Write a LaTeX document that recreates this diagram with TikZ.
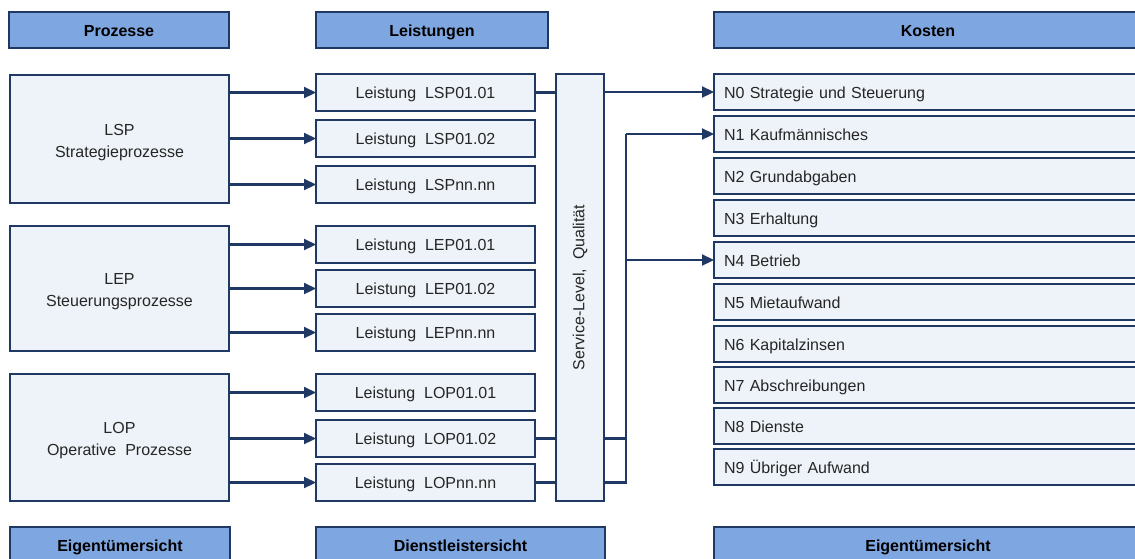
\documentclass[tikz,border=0pt]{standalone}
\usepackage{fontspec}
\setmainfont{Liberation Sans}[WordSpace=2]
\usetikzlibrary{arrows.meta}
\definecolor{navy}{HTML}{1F3864}
\definecolor{head}{HTML}{7EA6E0}
\definecolor{pale}{HTML}{EEF3F9}
\definecolor{ink}{HTML}{262626}
\tikzset{
  base/.style={draw=navy, line width=1.8pt, rectangle, inner sep=0pt, outer sep=0pt,
    anchor=north west, text=ink, font=\fontsize{16}{22}\selectfont},
  oneline/.style={text height=12pt, text depth=0pt},
  header/.style={base, oneline, fill=head, minimum height=36pt, text=black,
    font=\fontsize{16}{22}\selectfont\bfseries},
  proc/.style={base, fill=pale, minimum width=219pt, align=center, text height=39.5pt},
  task/.style={base, oneline, fill=pale, minimum width=219pt, minimum height=37pt},
  cost/.style={base, oneline, fill=pale, minimum height=36pt, text width=408pt,
    inner xsep=10pt, align=left},
  link/.style={draw=navy, line width=2.2pt},
  arrow/.style={link, -{Triangle[length=12pt,width=11pt]}}
}
\begin{document}
\begin{tikzpicture}[x=1pt,y=-1pt]
\useasboundingbox (0,0) rectangle (1135,558);

% column headers
\node[header, minimum width=220pt] (hproc)  at (9,12)   {Prozesse};
\node[header, minimum width=232pt] (hleist) at (316,12) {Leistungen};
\node[header, minimum width=428pt] (hkost)  at (714,12) {Kosten};

% footers
\node[header, minimum width=220pt] (fproc)  at (10,527)  {Eigentümersicht};
\node[header, minimum width=289pt] (fleist) at (316,527) {Dienstleistersicht};
\node[header, minimum width=428pt] (fkost)  at (714,527) {Eigentümersicht};

% process groups
\node[proc, minimum height=128pt] (lsp) at (10,75)  {LSP\\Strategieprozesse};
\node[proc, minimum height=125pt] (lep) at (10,226) {LEP\\Steuerungsprozesse};
\node[proc, minimum height=127pt] (lop) at (10,374) {LOP\\Operative Prozesse};

% services
\node[task] (s1) at (316,74)  {Leistung LSP01.01};
\node[task] (s2) at (316,120) {Leistung LSP01.02};
\node[task] (s3) at (316,166) {Leistung LSPnn.nn};
\node[task] (e1) at (316,226) {Leistung LEP01.01};
\node[task] (e2) at (316,270) {Leistung LEP01.02};
\node[task] (e3) at (316,314) {Leistung LEPnn.nn};
\node[task] (o1) at (316,374) {Leistung LOP01.01};
\node[task] (o2) at (316,420) {Leistung LOP01.02};
\node[task] (o3) at (316,464) {Leistung LOPnn.nn};

% service level column
\node[base, fill=pale, minimum width=48pt, minimum height=427pt] (svc) at (556,74) {};
\node[text=ink, font=\fontsize{16}{22}\selectfont, rotate=90] (svctext) at (svc.center) {Service-Level, Qualität};

% cost types
\node[cost] (n0) at (714,74)    {N0 Strategie und Steuerung};
\node[cost] (n1) at (714,116)   {N1 Kaufmännisches};
\node[cost] (n2) at (714,158)   {N2 Grundabgaben};
\node[cost] (n3) at (714,200)   {N3 Erhaltung};
\node[cost] (n4) at (714,242)   {N4 Betrieb};
\node[cost] (n5) at (714,284)   {N5 Mietaufwand};
\node[cost] (n6) at (714,326)   {N6 Kapitalzinsen};
\node[cost] (n7) at (714,367)   {N7 Abschreibungen};
\node[cost] (n8) at (714,408)   {N8 Dienste};
\node[cost] (n9) at (714,449)   {N9 Übriger Aufwand};

% processes -> services
\foreach \p/\s in {lsp/s1, lsp/s2, lsp/s3, lep/e1, lep/e2, lep/e3, lop/o1, lop/o2, lop/o3}
  \draw[arrow] (\p.east |- \s.west) -- (\s.west);

% services -> service level column
\foreach \s in {s1, o2, o3}
  \draw[link] (\s.east) -- (svc.west |- \s.east);

% service level -> cost types
\coordinate (bus) at (626,135);
\draw[arrow] (svc.east |- n0.west) -- (n0.west);
\draw[link] (svc.east |- o2.east) -- (bus |- o2.east);
\draw[link] (svc.east |- o3.east) -| (bus |- n1.west);
\draw[arrow] (bus |- n1.west) -- (n1.west);
\draw[arrow] (bus |- n4.west) -- (n4.west);
\end{tikzpicture}
\end{document}
